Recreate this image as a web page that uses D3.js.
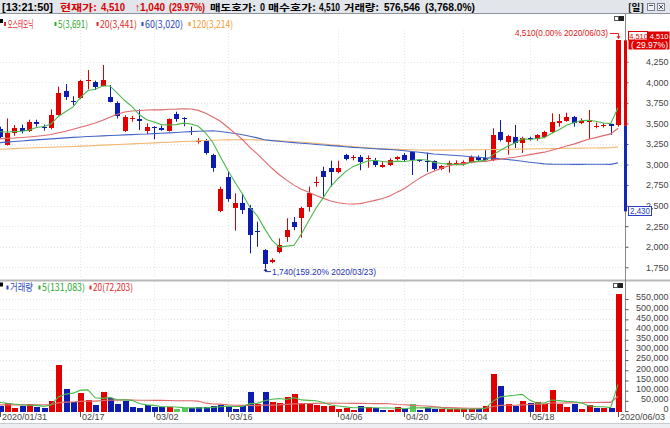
<!DOCTYPE html>
<html><head><meta charset="utf-8">
<script src="https://cdn.jsdelivr.net/npm/d3@7/dist/d3.min.js"></script>
<style>
html,body{margin:0;padding:0;background:#fff;overflow:hidden}
svg{display:block}
</style></head><body>
<svg id="chart" width="670" height="428"></svg>
<script>
// ---------------- DATA ----------------
const dates = ["2020/01/31",
"2020/02/03","2020/02/04","2020/02/05","2020/02/06","2020/02/07",
"2020/02/10","2020/02/11","2020/02/12","2020/02/13","2020/02/14",
"2020/02/17","2020/02/18","2020/02/19","2020/02/20","2020/02/21",
"2020/02/24","2020/02/25","2020/02/26","2020/02/27","2020/02/28",
"2020/03/02","2020/03/03","2020/03/04","2020/03/05","2020/03/06",
"2020/03/09","2020/03/10","2020/03/11","2020/03/12","2020/03/13",
"2020/03/16","2020/03/17","2020/03/18","2020/03/19","2020/03/20",
"2020/03/23","2020/03/24","2020/03/25","2020/03/26","2020/03/27",
"2020/03/30","2020/03/31","2020/04/01","2020/04/02","2020/04/03",
"2020/04/06","2020/04/07","2020/04/08","2020/04/09","2020/04/10",
"2020/04/13","2020/04/14","2020/04/16","2020/04/17",
"2020/04/20","2020/04/21","2020/04/22","2020/04/23","2020/04/24",
"2020/04/27","2020/04/28","2020/04/29",
"2020/05/04","2020/05/06","2020/05/07","2020/05/08",
"2020/05/11","2020/05/12","2020/05/13","2020/05/14","2020/05/15",
"2020/05/18","2020/05/19","2020/05/20","2020/05/21","2020/05/22",
"2020/05/25","2020/05/26","2020/05/27","2020/05/28","2020/05/29",
"2020/06/01","2020/06/02","2020/06/03"];

const open = [3432,3237,3379,3440,3407,3520,3460,3440,3602,3897,
3778,3805,4012,3999,3958,3817,3744,3407,3550,3550,
3407,3460,3440,3411,3610,3560,3410,3270,3290,3115,
2438,2852,2467,2535,2467,2195,1960,1814,1940,2115,
2304,2346,2487,2771,2921,2961,2905,3115,3075,3095,
3063,3046,2975,2994,3065,3115,3156,3050,3042,3042,
2941,2994,3006,3010,3027,3095,3083,3054,3399,3277,
3331,3258,3320,3306,3331,3391,3508,3533,3573,3505,
3520,3455,3468,3490,3475];
const high = [3460,3560,3480,3486,3545,3545,3486,3670,3947,3979,
3830,4030,4148,4019,4210,3967,3767,3600,3590,3670,
3500,3465,3475,3560,3642,3575,3460,3320,3310,3130,
2730,2912,2650,2650,2508,2304,1970,1860,2102,2346,
2362,2487,2731,2852,2973,3046,3046,3130,3115,3115,
3110,3080,3040,3075,3100,3140,3160,3060,3144,3050,
2995,3046,3050,3050,3110,3110,3176,3440,3541,3360,
3480,3338,3338,3370,3410,3622,3614,3630,3590,3560,
3663,3510,3505,3495,4510];
const low = [3320,3230,3350,3379,3395,3460,3411,3428,3594,3785,
3720,3795,3913,3905,3950,3755,3559,3395,3520,3420,
3367,3306,3410,3400,3520,3465,3360,3255,3120,2912,
2420,2547,2195,2398,1920,2000,1740,1800,1920,2061,
2200,2110,2426,2731,2608,2730,2893,3050,3050,2930,
2960,2970,2960,2980,3050,3040,2872,3030,2912,2925,
2930,2900,2990,2985,3015,3040,3034,3040,3280,3120,
3200,3140,3290,3290,3320,3379,3460,3520,3460,3490,
3310,3440,3450,3360,3460];
const close = [3331,3379,3447,3411,3520,3489,3445,3602,3866,3824,
3766,4019,4027,3938,4027,3763,3585,3575,3569,3529,
3460,3447,3420,3550,3550,3550,3390,3286,3140,2954,
2698,2577,2535,2447,2143,2183,1790,1838,2020,2203,
2236,2475,2650,2791,2852,2905,2954,3063,3095,3027,
3075,2994,2990,3060,3087,3054,3054,3045,3034,2941,
2985,3014,3022,3030,3087,3054,3058,3355,3298,3342,
3258,3318,3306,3355,3399,3520,3533,3581,3508,3530,
3540,3465,3480,3470,4510];

const ma5 = [3398,3396,3400,3405,3418,3449,3462,3493,3584,3645,
3701,3815,3900,3915,3955,3955,3868,3778,3704,3604,
3544,3516,3485,3481,3485,3503,3492,3465,3383,3264,
3094,2931,2781,2642,2480,2377,2220,2080,1995,2007,
2017,2154,2317,2471,2601,2735,2830,2913,2974,3009,
3043,3051,3036,3029,3041,3037,3049,3060,3055,3026,
3012,3004,2999,2998,3028,3041,3050,3117,3170,3221,
3262,3314,3304,3316,3327,3380,3423,3478,3508,3534,
3538,3525,3505,3497,3691];
const ma20 = [3315,3318,3322,3328,3335,3343,3352,3365,3385,3405,
3428,3452,3478,3505,3538,3575,3612,3638,3650,3656,
3662,3666,3664,3671,3673,3677,3674,3658,3622,3578,
3525,3453,3378,3304,3209,3130,3041,2954,2876,2810,
2749,2700,2662,2624,2588,2556,2534,2523,2520,2524,
2543,2564,2586,2617,2664,2708,2771,2831,2882,2919,
2956,2983,3002,3014,3026,3033,3038,3053,3063,3079,
3088,3104,3120,3135,3150,3174,3198,3225,3248,3278,
3306,3327,3351,3372,3441];
const ma60 = [3265,3272,3279,3286,3293,3300,3306,3312,3318,3324,
3330,3335,3340,3344,3348,3352,3356,3360,3363,3367,
3370,3375,3380,3385,3390,3395,3400,3405,3408,3410,
3401,3389,3376,3362,3343,3324,3300,3290,3282,3274,
3266,3259,3252,3244,3237,3230,3223,3215,3208,3203,
3198,3192,3187,3182,3177,3168,3158,3148,3138,3128,
3122,3116,3109,3103,3095,3088,3082,3078,3068,3060,
3052,3040,3028,3018,3008,3004,3003,3003,3002,3002,
3003,3003,3003,3002,3020];
const ma120 = [3185,3189,3193,3197,3201,3204,3207,3210,3213,3216,
3219,3223,3227,3231,3235,3239,3243,3247,3251,3255,
3259,3263,3267,3271,3275,3279,3283,3287,3291,3295,
3298,3300,3301,3302,3301,3299,3295,3291,3287,3282,
3277,3271,3264,3257,3249,3241,3233,3225,3217,3209,
3202,3196,3191,3187,3184,3181,3179,3177,3176,3175,
3175,3175,3176,3177,3178,3179,3180,3182,3183,3185,
3186,3188,3189,3191,3192,3194,3195,3197,3198,3199,
3200,3201,3202,3203,3214];

const volume = [26000,39000,16000,26000,36000,20000,16000,49000,224000,106000,
43000,90000,56000,30000,92000,66000,33000,51000,20000,16000,
30000,20000,20000,20000,10000,13000,13000,20000,20000,23000,
30000,26000,10000,23000,92000,36000,92000,46000,39000,69000,
82000,36000,36000,30000,23000,23000,10000,16000,6500,26000,
20000,13000,6500,6500,20000,10000,33000,6500,13000,10000,
10000,10000,10000,10000,10000,10000,26000,180000,121000,33000,
26000,49000,39000,46000,36000,101000,33000,20000,36000,10000,
29000,13000,16000,16000,576546];
// direction vs previous close: u = up, d = down, n = unchanged
const volDir = ["d","u","u","d","u","d","d","u","u","d",
"d","u","u","d","u","d","d","d","d","d",
"d","d","d","u","n","n","d","d","d","d",
"d","d","d","d","d","u","d","u","u","u",
"u","u","u","u","u","u","u","u","u","d",
"u","d","d","u","u","d","n","d","d","d",
"u","u","u","u","u","d","u","u","d","u",
"d","u","d","u","u","u","u","u","d","u",
"u","d","u","d","u"];
const vma5 = [42000,38000,34000,31000,28600,27400,22800,29400,69000,83000,
87600,102400,103800,65000,62200,66800,55400,54400,52400,37200,
30000,27400,21200,21200,20000,16600,15200,15200,15200,17800,
21200,23800,21800,22400,36200,37400,50600,57800,61000,56400,
65600,54400,52400,50600,41400,29600,24400,20400,15700,16300,
15700,16300,14400,14400,13200,11200,15200,15200,16500,14500,
14500,9900,10600,10000,10000,10000,13200,47200,69400,74000,
77200,81800,53600,38600,39200,54200,51000,47200,45200,40000,
25600,21600,20800,16800,131083];
const vma20 = [30000,30000,30000,30000,30000,30000,31000,32000,40000,43500,
44200,47200,48500,48500,51600,53400,53500,54500,54000,52800,
53000,52000,52200,51900,50600,50300,50100,48700,38500,34300,
33700,30500,28200,27800,27800,26300,29300,29000,30000,32600,
35200,36000,36800,37300,38000,38500,38300,38100,37400,37600,
37100,36400,36300,35400,31800,30500,27600,25600,24300,21400,
17800,16500,15200,14200,13500,12900,13700,21900,27600,27900,
28200,30000,31700,33600,34400,39000,39000,39700,40800,40800,
41800,41900,42200,42500,72203];

const priceTicks = [1750,2000,2250,2500,2750,3000,3250,3500,3750,4000,4250];
const volTicks = [0,50000,100000,150000,200000,250000,300000,350000,400000,450000,500000,550000];
const dateTicks = ["2020/01/31","2020/02/17","2020/03/02","2020/03/16","2020/04/06","2020/04/20","2020/05/04","2020/05/18","2020/06/03"];
const dateTickLabels = ["2020/01/31","02/17","03/02","03/16","04/06","04/20","05/04","05/18","2020/06/03"];

const upperLimit = 4510, prevClose = 3470, lowerLimit = 2430;
const highMark = {date:"2020/06/03", value:4510, text:"4,510(0.00% 2020/06/03)"};
const lowMark = {date:"2020/03/23", value:1740, text:"1,740(159.20% 2020/03/23)"};

// header: text, colour, is-Korean
const headerSegs = [
 ["[13:21:50]", "#000", 0], ["현재가:", "#d80000", 1], ["4,510", "#d80000", 0], ["↑1,040", "#d80000", 0],
 ["(29.97%)", "#d80000", 0], ["매도호가:", "#000", 1], ["0", "#000", 0], ["매수호가:", "#000", 1],
 ["4,510", "#000", 0], ["거래량:", "#000", 1], ["576,546", "#000", 0], ["(3,768.0%)", "#000", 0]];
const headerX = [2,60,101,135,169,210,260,268,319,344,384,425];
const headerW = [51,37,24,30,36,46,5,48,21,35,36,50];

const priceLegend = [["오스테오닉","#e02828"],["5(3,691)","#2ea82e"],["20(3,441)","#e02828"],["60(3,020)","#2a46c0"],["120(3,214)","#f09a30"]];
const volLegend = [["거래량","#2a46c0"],["5(131,083)","#2ea82e"],["20(72,203)","#e02828"]];

// ---------------- CHART ----------------
const W = 670, H = 428;
const RED = "#e00000", BLUE = "#0c1cb0", VGREEN = "#5ac85a";
const C5 = "#4cb84c", C20 = "#e06a6a", C60 = "#4466c8", C120 = "#f3b66e";
const KR = "'Noto Sans CJK KR', 'Liberation Sans', sans-serif";
const NUM = "'Liberation Sans', 'DejaVu Sans', sans-serif";

const svg = d3.select("#chart");
const defs = svg.append("defs");
defs.append("clipPath").attr("id","cp").append("rect").attr("x",0).attr("y",14).attr("width",624).attr("height",265);
defs.append("clipPath").attr("id","cv").append("rect").attr("x",0).attr("y",282).attr("width",624).attr("height",130);

const x = d3.scalePoint().domain(dates).range([-0.5, 618]);
const y = d3.scaleLinear().domain([1750, 4250]).range([267.3, 61.7]);
const yv = d3.scaleLinear().domain([0, 550000]).range([411, 299]);
const px = d => Math.round(x(d));

// header bar
svg.append("rect").attr("x",0).attr("y",0).attr("width",W).attr("height",13).attr("fill","#e2e5ea");
svg.append("line").attr("x1",0).attr("x2",W).attr("y1",13.5).attr("y2",13.5).attr("stroke","#8d949c");
svg.append("g").selectAll("text").data(headerSegs).join("text")
  .attr("x",(d,i)=>headerX[i]).attr("y",d=>d[2]?11.2:10.6)
  .attr("textLength",(d,i)=>headerW[i]).attr("lengthAdjust","spacingAndGlyphs")
  .attr("font-family",d=>d[2]?KR:NUM).attr("font-weight","bold").attr("font-size",d=>d[2]?9.5:10.5)
  .attr("fill",d=>d[1]).text(d=>d[0]);
svg.append("text").attr("x",628).attr("y",11.2).attr("font-family",KR).attr("font-weight","bold")
  .attr("font-size",9.5).attr("textLength",16).attr("lengthAdjust","spacingAndGlyphs").attr("fill","#000").text("[일]");
svg.append("rect").attr("x",647.5).attr("y",3.5).attr("width",7).attr("height",7).attr("fill","#eef0f3").attr("stroke","#7a8190");
svg.append("line").attr("x1",649).attr("x2",653).attr("y1",5.5).attr("y2",5.5).attr("stroke","#4a5060");
svg.append("rect").attr("x",657.5).attr("y",3.5).attr("width",7).attr("height",7).attr("fill","#eef0f3").attr("stroke","#7a8190");
svg.append("path").attr("d","M659,5 L663,9 M663,5 L659,9").attr("stroke","#4a5060");

// panel divider & bottom strip
svg.append("rect").attr("x",0).attr("y",279.5).attr("width",W).attr("height",2).attr("fill","#b8b8b8");
svg.append("rect").attr("x",0).attr("y",423.5).attr("width",W).attr("height",5).attr("fill","#eceef1");
svg.append("line").attr("x1",0).attr("x2",W).attr("y1",423.5).attr("y2",423.5).attr("stroke","#c9ccd1");

// grid
const grid = svg.append("g").attr("stroke","#e6e6e6").attr("stroke-dasharray","1,2");
grid.selectAll(".gh").data(priceTicks).join("line").attr("x1",0).attr("x2",624)
  .attr("y1",d=>Math.round(y(d))+0.5).attr("y2",d=>Math.round(y(d))+0.5);
grid.selectAll(".gv").data(volTicks.slice(1)).join("line").attr("x1",0).attr("x2",624)
  .attr("y1",d=>Math.round(yv(d))+0.5).attr("y2",d=>Math.round(yv(d))+0.5);
grid.selectAll(".gx").data(dateTicks.slice(1,-1)).join("line")
  .attr("x1",d=>px(d)+0.5).attr("x2",d=>px(d)+0.5).attr("y1",30).attr("y2",411);

// legends
function legend(items, xs, ws, yb, markY){
  const g = svg.append("g");
  g.append("rect").attr("x",0).attr("y",markY-3).attr("width",3).attr("height",4).attr("fill","#000");
  items.forEach((it,i)=>{
    g.append("rect").attr("x",xs[i]-3.5).attr("y",markY).attr("width",2).attr("height",4).attr("fill",it[1]);
    g.append("text").attr("x",xs[i]).attr("y",yb).attr("font-family",KR).attr("font-size",10)
      .attr("textLength",ws[i]).attr("lengthAdjust","spacingAndGlyphs").attr("fill",it[1]).text(it[0]);
  });
}
legend(priceLegend,[7.5,58,100,145,192],[26,30,37,38,41],27.6,22);
legend(volLegend,[10,42,93],[23,43,40],290.8,285.5);

// panel icons
[[614,16],[613,283]].forEach(p=>{
  svg.append("rect").attr("x",p[0]+0.5).attr("y",p[1]+0.5).attr("width",4).attr("height",4).attr("fill","#fff").attr("stroke","#555");
  svg.append("rect").attr("x",p[0]+5.5).attr("y",p[1]+0.5).attr("width",4).attr("height",4).attr("fill","#222").attr("stroke","#222");
});

// axis line
svg.append("line").attr("x1",625.5).attr("x2",625.5).attr("y1",14).attr("y2",412).attr("stroke","#8a8a8a");

// price axis
const ay = svg.append("g").attr("transform","translate(625.5,0)")
  .call(d3.axisRight(y).tickValues(priceTicks).tickSize(3).tickFormat(d3.format(",")));
ay.select(".domain").remove();
ay.selectAll("line").attr("stroke","#555");
ay.selectAll("text").attr("x",43).attr("dy","0.32em").attr("text-anchor","end")
  .attr("font-family",NUM).attr("font-size",9).attr("fill","#444");

// volume axis
const av = svg.append("g").attr("transform","translate(625.5,0)")
  .call(d3.axisRight(yv).tickValues(volTicks).tickSize(3).tickFormat(d3.format(",")));
av.select(".domain").remove();
av.selectAll("line").attr("stroke","#555");
av.selectAll("text").attr("x",43).attr("dy","0.1em").attr("text-anchor","end")
  .attr("font-family",NUM).attr("font-size",9).attr("fill","#444");

// x axis
const ax = svg.append("g").attr("transform","translate(0.5,412)")
  .call(d3.axisBottom(x).tickValues(dateTicks).tickSize(5).tickFormat((d,i)=>dateTickLabels[i]));
ax.select(".domain").remove();
ax.selectAll(".tick").attr("transform",d=>`translate(${px(d)},0)`);
ax.selectAll("line").attr("stroke","#555");
ax.selectAll("text").attr("x",1.5).attr("y",2).attr("dy","0.71em").attr("text-anchor","start")
  .attr("font-family",NUM).attr("font-size",9).attr("fill","#444");

// price limit bar on axis
svg.append("rect").attr("x",624).attr("y",y(upperLimit)).attr("width",3).attr("height",y(prevClose)-y(upperLimit)).attr("fill",RED);
svg.append("rect").attr("x",624).attr("y",y(prevClose)).attr("width",3).attr("height",y(lowerLimit)-y(prevClose)).attr("fill","#1428b4");

// candles
const gP = svg.append("g").attr("clip-path","url(#cp)");
const idx = d3.range(dates.length);
gP.selectAll(".wick").data(idx).join("line")
  .attr("x1",i=>px(dates[i])+0.5).attr("x2",i=>px(dates[i])+0.5)
  .attr("y1",i=>y(high[i])).attr("y2",i=>y(low[i]))
  .attr("stroke",i=>close[i]>=open[i]?RED:BLUE).attr("stroke-width",1);
gP.selectAll(".body").data(idx).join("rect")
  .attr("x",i=>px(dates[i])-2).attr("width",5)
  .attr("y",i=>Math.round(y(Math.max(open[i],close[i]))))
  .attr("height",i=>Math.max(1,Math.round(y(Math.min(open[i],close[i])))-Math.round(y(Math.max(open[i],close[i])))))
  .attr("fill",i=>close[i]>=open[i]?RED:BLUE);

// MA lines
const lineP = d3.line().x((v,i)=>x(dates[i])).y(v=>y(v));
[[ma120,C120],[ma60,C60],[ma20,C20],[ma5,C5]].forEach(m=>{
  gP.append("path").attr("d",lineP(m[0])).attr("fill","none").attr("stroke",m[1]).attr("stroke-width",1.1);
});

// volume
const gV = svg.append("g").attr("clip-path","url(#cv)");
const vcol = {u:RED, d:BLUE, n:VGREEN};
gV.selectAll(".vb").data(idx).join("rect")
  .attr("x",i=>px(dates[i])-2).attr("width",6)
  .attr("y",i=>Math.round(yv(volume[i]))).attr("height",i=>412-Math.round(yv(volume[i])))
  .attr("fill",i=>vcol[volDir[i]]);
const lineV = d3.line().x((v,i)=>x(dates[i])).y(v=>yv(v));
gV.append("path").attr("d",lineV(vma20)).attr("fill","none").attr("stroke",C20).attr("stroke-width",1.1);
gV.append("path").attr("d",lineV(vma5)).attr("fill","none").attr("stroke",C5).attr("stroke-width",1.1);

// high annotation
const hx = px(highMark.date)+0.5, hy = y(highMark.value);
svg.append("text").attr("x",608).attr("y",36.3).attr("text-anchor","end").attr("font-family",NUM).attr("font-size",9)
  .attr("textLength",93).attr("lengthAdjust","spacingAndGlyphs").attr("fill","#e02020").text(highMark.text);
svg.append("path").attr("d",`M610,33.5 H${hx} V${hy-2}`).attr("fill","none").attr("stroke","#e02020");
svg.append("path").attr("d",`M${hx-2},${hy-4} L${hx+2},${hy-4} L${hx},${hy-1} Z`).attr("fill","#e02020");

// low annotation
const lx = px(lowMark.date)+0.5, ly = y(lowMark.value);
svg.append("path").attr("d",`M${lx},${ly+1} V${ly+3.5} H271`).attr("fill","none").attr("stroke","#2030b0");
svg.append("path").attr("d",`M${lx-2},${ly+3} L${lx+2},${ly+3} L${lx},${ly} Z`).attr("fill","#2030b0");
svg.append("text").attr("x",272).attr("y",ly+6.5).attr("font-family",NUM).attr("font-size",9)
  .attr("textLength",104).attr("lengthAdjust","spacingAndGlyphs").attr("fill","#2030b0").text(lowMark.text);

// current price / limit labels
svg.append("rect").attr("x",628.5).attr("y",31.5).attr("width",41).attr("height",18).attr("fill","#e00000");
svg.append("text").attr("x",668.5).attr("y",38.6).attr("text-anchor","end").attr("font-family",NUM).attr("font-size",7.5)
  .attr("fill","#fff").text(d3.format(",")(upperLimit));
svg.append("text").attr("x",668).attr("y",48.4).attr("text-anchor","end").attr("font-family",NUM).attr("font-size",8.5)
  .attr("textLength",37).attr("lengthAdjust","spacingAndGlyphs").attr("fill","#fff").text("( 29.97%)");
svg.append("rect").attr("x",628.5).attr("y",31.5).attr("width",19).attr("height",8.5).attr("fill","#fff").attr("stroke","#e00000");
svg.append("text").attr("x",629.2).attr("y",38.6).attr("font-family",NUM).attr("font-size",7.5)
  .attr("fill","#e00000").text(d3.format(",")(upperLimit));
const lly = Math.round(y(lowerLimit));
svg.append("rect").attr("x",628.5).attr("y",lly-4.5).attr("width",23).attr("height",9).attr("fill","#fff").attr("stroke","#2840c0");
svg.append("text").attr("x",640).attr("y",lly+3).attr("text-anchor","middle").attr("font-family",NUM).attr("font-size",9)
  .attr("textLength",20).attr("lengthAdjust","spacingAndGlyphs").attr("fill","#2840c0").text(d3.format(",")(lowerLimit));
</script>
</body></html>
